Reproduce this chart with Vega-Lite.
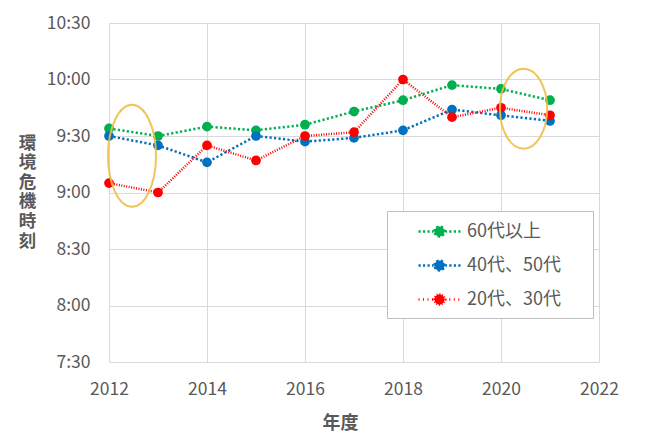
{
  "$schema": "https://vega.github.io/schema/vega-lite/v6.json",
  "width": 490,
  "height": 339,
  "autosize": {"type": "none"},
  "padding": {"left": 109, "top": 23, "right": 51, "bottom": 82},
  "background": "white",
  "config": {
    "view": {"stroke": null},
    "font": "Noto Sans CJK JP"
  },
  "datasets": {
    "times": [
      {"year": 2012, "series": "60代以上", "minutes": 574},
      {"year": 2013, "series": "60代以上", "minutes": 570},
      {"year": 2014, "series": "60代以上", "minutes": 575},
      {"year": 2015, "series": "60代以上", "minutes": 573},
      {"year": 2016, "series": "60代以上", "minutes": 576},
      {"year": 2017, "series": "60代以上", "minutes": 583},
      {"year": 2018, "series": "60代以上", "minutes": 589},
      {"year": 2019, "series": "60代以上", "minutes": 597},
      {"year": 2020, "series": "60代以上", "minutes": 595},
      {"year": 2021, "series": "60代以上", "minutes": 589},
      {"year": 2012, "series": "40代、50代", "minutes": 570},
      {"year": 2013, "series": "40代、50代", "minutes": 565},
      {"year": 2014, "series": "40代、50代", "minutes": 556},
      {"year": 2015, "series": "40代、50代", "minutes": 570},
      {"year": 2016, "series": "40代、50代", "minutes": 567},
      {"year": 2017, "series": "40代、50代", "minutes": 569},
      {"year": 2018, "series": "40代、50代", "minutes": 573},
      {"year": 2019, "series": "40代、50代", "minutes": 584},
      {"year": 2020, "series": "40代、50代", "minutes": 581},
      {"year": 2021, "series": "40代、50代", "minutes": 578},
      {"year": 2012, "series": "20代、30代", "minutes": 545},
      {"year": 2013, "series": "20代、30代", "minutes": 540},
      {"year": 2014, "series": "20代、30代", "minutes": 565},
      {"year": 2015, "series": "20代、30代", "minutes": 557},
      {"year": 2016, "series": "20代、30代", "minutes": 570},
      {"year": 2017, "series": "20代、30代", "minutes": 572},
      {"year": 2018, "series": "20代、30代", "minutes": 600},
      {"year": 2019, "series": "20代、30代", "minutes": 580},
      {"year": 2020, "series": "20代、30代", "minutes": 585},
      {"year": 2021, "series": "20代、30代", "minutes": 581}
    ],
    "ellipseA": [{"year": 2012.47, "minutes": 559.5}],
    "ellipseB": [{"year": 2020.46, "minutes": 584.5}]
  },
  "encoding": {
    "x": {
      "field": "year",
      "type": "quantitative",
      "scale": {"domain": [2012, 2022], "nice": false, "zero": false},
      "axis": {
        "values": [2012, 2014, 2016, 2018, 2020, 2022],
        "format": "d",
        "labelFlush": false,
        "title": "年度",
        "titleFontSize": 18,
        "titleFontWeight": "bold",
        "titleColor": "#595959",
        "titleX": 231,
        "titleY": 61,
        "titleBaseline": "middle",
        "labelFontSize": 17.5,
        "labelColor": "#595959",
        "labelBaseline": "middle",
        "labelPadding": 27,
        "ticks": false,
        "domain": false,
        "grid": true,
        "gridColor": "#D9D9D9"
      }
    },
    "y": {
      "field": "minutes",
      "type": "quantitative",
      "scale": {"domain": [450, 630], "nice": false, "zero": false},
      "axis": {
        "values": [450, 480, 510, 540, 570, 600, 630],
        "labelExpr": "floor(datum.value / 60) + ':' + (datum.value % 60 < 10 ? '0' : '') + (datum.value % 60)",
        "labelFlush": false,
        "title": ["環", "境", "危", "機", "時", "刻"],
        "titleAngle": 0,
        "titleAlign": "center",
        "titleBaseline": "middle",
        "titleX": -82,
        "titleY": 120,
        "titleLineHeight": 19.6,
        "titleFontSize": 17.5,
        "titleFontWeight": "bold",
        "titleColor": "#595959",
        "labelFontSize": 17.5,
        "labelColor": "#595959",
        "labelPadding": 19,
        "ticks": false,
        "domain": false,
        "grid": true,
        "gridColor": "#D9D9D9"
      }
    }
  },
  "layer": [
    {
      "data": {"name": "times"},
      "mark": {"type": "line", "strokeCap": "butt"},
      "encoding": {
        "color": {
          "field": "series",
          "type": "nominal",
          "scale": {
            "domain": ["60代以上", "40代、50代", "20代、30代"],
            "range": ["#00B050", "#0070C0", "#FF0000"]
          },
          "legend": {
            "title": null,
            "orient": "none",
            "legendX": 278,
            "legendY": 188,
            "padding": 9,
            "fillColor": "white",
            "strokeColor": "#BFBFBF",
            "symbolType": "M -2.1 0 L -1.88 0 M -1.65 0 L -1.43 0 M -1.2 0 L -0.98 0 M -0.75 0 L -0.6 0 M 0.6 0 L 0.75 0 M 0.98 0 L 1.2 0 M 1.43 0 L 1.65 0 M 1.88 0 L 2.1 0 M -0.5 0 C -0.5 -0.276 -0.276 -0.5 0 -0.5 C 0.276 -0.5 0.5 -0.276 0.5 0 C 0.5 0.276 0.276 0.5 0 0.5 C -0.276 0.5 -0.5 0.276 -0.5 0 Z M 14.3 0",
            "symbolSize": 400,
            "symbolOffset": 32,
            "labelOffset": 16,
            "labelFontSize": 18,
            "labelColor": "#595959",
            "rowPadding": 13,
            "encode": {
              "symbols": {
                "update": {
                  "fill": {"scale": "color", "field": "value"},
                  "stroke": {"scale": "color", "field": "value"},
                  "strokeWidth": {"scale": "strokeWidth", "field": "value"},
                  "strokeJoin": {"value": "round"},
                  "opacity": {"value": 1}
                }
              }
            }
          }
        },
        "strokeDash": {
          "field": "series",
          "type": "nominal",
          "scale": {
            "domain": ["60代以上", "40代、50代", "20代、30代"],
            "range": [[2.2, 2.3], [2.2, 2.3], [1, 1.5]]
          },
          "legend": null
        },
        "strokeWidth": {
          "field": "series",
          "type": "nominal",
          "scale": {
            "domain": ["60代以上", "40代、50代", "20代、30代"],
            "range": [2.5, 2.5, 1]
          },
          "legend": null
        }
      }
    },
    {
      "data": {"name": "times"},
      "mark": {"type": "circle", "size": 95, "opacity": 1},
      "encoding": {
        "color": {"field": "series", "type": "nominal"}
      }
    },
    {
      "data": {"name": "ellipseA"},
      "mark": {
        "type": "point",
        "shape": "M -0.47 0 A 0.47 1 0 1 0 0.47 0 A 0.47 1 0 1 0 -0.47 0 Z",
        "size": 10404,
        "filled": false,
        "color": "#EFBF45",
        "strokeWidth": 2,
        "opacity": 0.9
      }
    },
    {
      "data": {"name": "ellipseB"},
      "mark": {
        "type": "point",
        "shape": "M -0.59 0 A 0.59 1 0 1 0 0.59 0 A 0.59 1 0 1 0 -0.59 0 Z",
        "size": 6400,
        "filled": false,
        "color": "#EFBF45",
        "strokeWidth": 2,
        "opacity": 0.9
      }
    }
  ]
}
